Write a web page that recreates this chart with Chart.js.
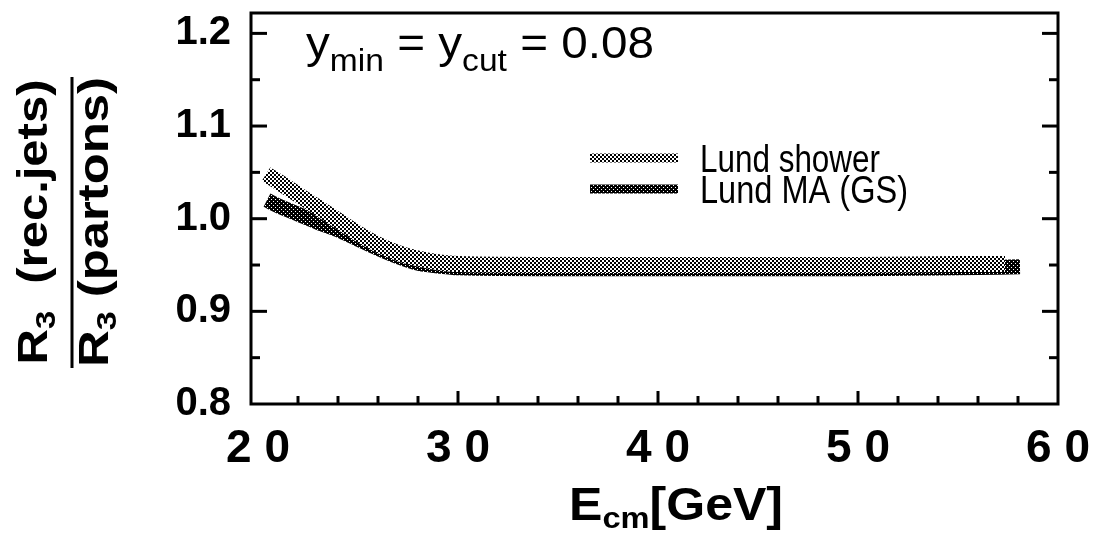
<!DOCTYPE html>
<html>
<head>
<meta charset="utf-8">
<script src="https://cdn.jsdelivr.net/npm/chart.js@4.4.0/dist/chart.umd.min.js"></script>
<style>
  html, body { margin: 0; padding: 0; background: #fff; }
  canvas { display: block; }
</style>
</head>
<body>
<canvas id="chart" width="1102" height="534"></canvas>
<script>
const FONT = "'Liberation Sans', Arial, Helvetica, sans-serif";

// data
const seriesNames = ['Lund shower', 'Lund MA (GS)'];
const showerE = [20.4, 21, 22, 23, 24, 25, 26, 27, 28, 29, 30, 35, 40, 45, 50, 55, 57.35];
const showerR = [1.048, 1.040, 1.026, 1.012, 0.998, 0.984, 0.972, 0.963, 0.957, 0.953, 0.951, 0.950, 0.950, 0.950, 0.950, 0.951, 0.951];
const maE = [20.45, 21, 22, 23, 24, 25, 26, 27, 28, 29, 30, 35, 40, 45, 50, 55, 58.1];
const maR = [1.020, 1.014, 1.005, 0.996, 0.988, 0.978, 0.968, 0.959, 0.952, 0.949, 0.947, 0.946, 0.946, 0.946, 0.946, 0.947, 0.948];

const xTickValues = [20, 22, 24, 26, 28, 30, 32, 34, 36, 38, 40, 42, 44, 46, 48, 50, 52, 54, 56, 58, 60];
const yTickValues = [0.8, 0.85, 0.9, 0.95, 1.0, 1.05, 1.1, 1.15, 1.2];
const xRange = [19.65, 60.0];
const yRange = [0.8, 1.222];

const canvas = document.getElementById('chart');
const mainCtx = canvas.getContext('2d');

// halftone-like fills for the two bands
function makePattern(dark) {
  const c = document.createElement('canvas');
  c.width = 4; c.height = 4;
  const g = c.getContext('2d');
  g.fillStyle = dark ? '#000' : '#fff';
  g.fillRect(0, 0, 4, 4);
  g.fillStyle = dark ? '#fff' : '#000';
  if (dark) {
    g.fillRect(1, 1, 1, 1);
    g.fillRect(3, 3, 1, 1);
  } else {
    g.fillRect(0, 0, 2, 2);
    g.fillRect(2, 2, 2, 2);
  }
  return mainCtx.createPattern(c, 'repeat');
}

const lightFill = makePattern(false);
const darkFill = makePattern(true);

function drawRuns(ctx, runs, x, y, width, align) {
  let total = 0;
  runs.forEach(r => {
    ctx.font = r.font;
    r.w = ctx.measureText(r.text).width;
    total += r.w;
  });
  const sx = width / total;
  ctx.save();
  ctx.translate(align === 'center' ? x - width / 2 : x, y);
  ctx.scale(sx, 1);
  ctx.textAlign = 'left';
  ctx.textBaseline = 'alphabetic';
  let cx = 0;
  runs.forEach(r => {
    ctx.font = r.font;
    ctx.fillText(r.text, cx, r.dy || 0);
    cx += r.w;
  });
  ctx.restore();
}

const decorations = {
  id: 'decorations',
  afterDraw(chart) {
    const { ctx, chartArea: a, scales: { x, y } } = chart;
    ctx.save();
    ctx.strokeStyle = '#000';
    ctx.fillStyle = '#000';
    ctx.lineWidth = 3;
    ctx.strokeRect(a.left, a.top, a.right - a.left, a.bottom - a.top);

    const seg = (x1, y1, x2, y2) => {
      ctx.beginPath(); ctx.moveTo(x1, y1); ctx.lineTo(x2, y2); ctx.stroke();
    };

    // inner ticks, left and right
    y.ticks.forEach(t => {
      const py = y.getPixelForValue(t.value);
      if (py >= a.bottom - 3) return;
      const len = t.label ? 16 : 9;
      seg(a.left, py, a.left + len, py);
      seg(a.right, py, a.right - len, py);
    });
    x.ticks.forEach(t => {
      const px = x.getPixelForValue(t.value);
      if (px <= a.left + 10 || px >= a.right - 10) return;
      const len = t.label ? 13 : 8;
      seg(px, a.bottom, px, a.bottom - len);
    });

    // y title as a fraction
    const bold = s => 'bold ' + s + 'px ' + FONT;
    const plain = s => s + 'px ' + FONT;
    ctx.save();
    ctx.translate(47, 222);
    ctx.rotate(-Math.PI / 2);
    drawRuns(ctx, [
      { text: 'R', font: bold(42) },
      { text: '3', font: bold(28), dy: 8 },
      { text: '  (rec.jets)', font: bold(42) }
    ], 0, 0, 285, 'center');
    ctx.restore();
    ctx.save();
    ctx.translate(108, 222);
    ctx.rotate(-Math.PI / 2);
    drawRuns(ctx, [
      { text: 'R', font: bold(42) },
      { text: '3', font: bold(28), dy: 8 },
      { text: ' (partons)', font: bold(42) }
    ], 0, 0, 290, 'center');
    ctx.restore();
    seg(72, 77, 72, 368);

    // x title
    drawRuns(ctx, [
      { text: 'E', font: bold(46) },
      { text: 'cm', font: bold(30), dy: 8 },
      { text: '[GeV]', font: bold(46) }
    ], 676, 520, 214, 'center');

    // annotation
    drawRuns(ctx, [
      { text: 'y', font: plain(44) },
      { text: 'min', font: plain(31), dy: 13 },
      { text: ' = ', font: plain(44) },
      { text: 'y', font: plain(44) },
      { text: 'cut', font: plain(31), dy: 13 },
      { text: ' = 0.08', font: plain(44) }
    ], 306, 58, 348, 'left');

    // legend
    const rows = [158, 189];
    const widths = [180, 208];
    chart.data.datasets.forEach((ds, i) => {
      ctx.strokeStyle = ds.borderColor;
      ctx.lineWidth = 9;
      seg(590, rows[i], 678, rows[i]);
      drawRuns(ctx, [{ text: ds.label, font: plain(38) }], 700, rows[i] + 14, widths[i], 'left');
    });
    ctx.restore();
  }
};

new Chart(canvas, {
  type: 'line',
  data: {
    datasets: [
      {
        label: seriesNames[0],
        data: showerE.map((e, i) => ({ x: e, y: showerR[i] })),
        borderColor: lightFill,
        borderWidth: 16,
        borderCapStyle: 'butt',
        cubicInterpolationMode: 'monotone',
        pointRadius: 0,
        fill: false
      },
      {
        label: seriesNames[1],
        data: maE.map((e, i) => ({ x: e, y: maR[i] })),
        borderColor: darkFill,
        borderWidth: 15,
        borderCapStyle: 'butt',
        cubicInterpolationMode: 'monotone',
        pointRadius: 0,
        fill: false
      }
    ]
  },
  options: {
    responsive: false,
    animation: false,
    layout: { padding: { top: 13, right: 44, left: 0, bottom: 0 } },
    plugins: { legend: { display: false }, tooltip: { enabled: false } },
    scales: {
      x: {
        type: 'linear',
        min: xRange[0],
        max: xRange[1],
        afterBuildTicks: s => { s.ticks = xTickValues.map(v => ({ value: v })); },
        afterFit: s => { s.height = 130; s.paddingLeft = 0; s.paddingRight = 0; },
        grid: { display: false },
        border: { display: false },
        ticks: {
          autoSkip: false,
          maxRotation: 0,
          minRotation: 0,
          padding: 10,
          color: '#000',
          font: { family: FONT, size: 46, weight: 'bold' },
          callback: v => (v % 10 === 0 ? String(v).split('').join(' ') : '')
        }
      },
      y: {
        min: yRange[0],
        max: yRange[1],
        afterBuildTicks: s => { s.ticks = yTickValues.map(v => ({ value: v })); },
        afterFit: s => { s.width = 251; s.paddingTop = 0; s.paddingBottom = 0; },
        grid: { display: false },
        border: { display: false },
        ticks: {
          autoSkip: false,
          padding: 12,
          color: '#000',
          font: { family: FONT, size: 40, weight: 'bold' },
          callback: v => (Math.abs(v * 10 - Math.round(v * 10)) < 1e-6 ? v.toFixed(1) : '')
        }
      }
    }
  },
  plugins: [decorations]
});
</script>
</body>
</html>
